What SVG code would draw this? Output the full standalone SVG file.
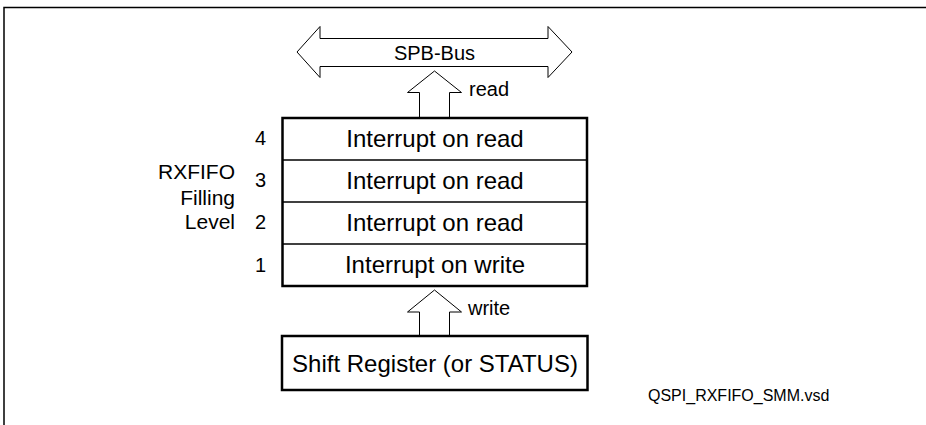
<svg xmlns="http://www.w3.org/2000/svg" width="926" height="425" viewBox="0 0 926 425">
<style>
.t{font-family:"Liberation Sans",Arial,sans-serif;fill:#000}
.big{font-size:24px}
.mid{font-size:20px}
.lbl{font-size:21px}
.sm{font-size:16px}
.arr{fill:#fff;stroke:#000;stroke-width:1;stroke-linejoin:miter}
.box{fill:#fff;stroke:#000;stroke-width:2.5}
.div{stroke:#000;stroke-width:1.5}
</style>
<rect width="926" height="425" fill="#fff"/>
<g id="frame"><polyline points="4,425 4,7.5 926,7.5" fill="none" stroke="#000" stroke-width="1.5"/></g>
<g id="connectors">
<polygon class="arr" points="297,52 320,26.5 320,38.5 548,38.5 548,26.5 572,52 548,77.5 548,66.5 320,66.5 320,77.5"/>
<polyline class="arr" points="419.5,118 419.5,92.5 407.5,92.5 434.5,71 461.5,92.5 449.5,92.5 449.5,118"/>
<polyline class="arr" points="419.5,336 419.5,312 407.5,312 434.5,290 461.5,312 449.5,312 449.5,336"/>
<text class="t mid" x="469" y="96">read</text>
<text class="t mid" x="468" y="315">write</text>
</g>
<g id="bus"><text class="t mid" x="434.5" y="60" text-anchor="middle">SPB-Bus</text></g>
<g id="rxfifo">
<rect class="box" x="282.5" y="118" width="304.5" height="168"/>
<line class="div" x1="282.5" y1="160" x2="587" y2="160"/>
<line class="div" x1="282.5" y1="202" x2="587" y2="202"/>
<line class="div" x1="282.5" y1="244" x2="587" y2="244"/>
<text class="t big" x="435" y="147" text-anchor="middle">Interrupt on read</text>
<text class="t big" x="435" y="189" text-anchor="middle">Interrupt on read</text>
<text class="t big" x="435" y="231" text-anchor="middle">Interrupt on read</text>
<text class="t big" x="435" y="273" text-anchor="middle">Interrupt on write</text>
</g>
<g id="levels">
<text class="t mid" x="260.5" y="145" text-anchor="middle">4</text>
<text class="t mid" x="260.5" y="187" text-anchor="middle">3</text>
<text class="t mid" x="260.5" y="228.5" text-anchor="middle">2</text>
<text class="t mid" x="260.5" y="272" text-anchor="middle">1</text>
<text class="t lbl" x="235" y="178.5" text-anchor="end">RXFIFO</text>
<text class="t lbl" x="235" y="205" text-anchor="end">Filling</text>
<text class="t lbl" x="235" y="228.5" text-anchor="end">Level</text>
</g>
<g id="shift">
<rect class="box" x="282" y="336" width="305.5" height="54"/>
<text class="t big" x="435" y="372" text-anchor="middle">Shift Register (or STATUS)</text>
</g>
<g id="filename"><text class="t sm" x="648" y="401">QSPI_RXFIFO_SMM.vsd</text></g>
</svg>
